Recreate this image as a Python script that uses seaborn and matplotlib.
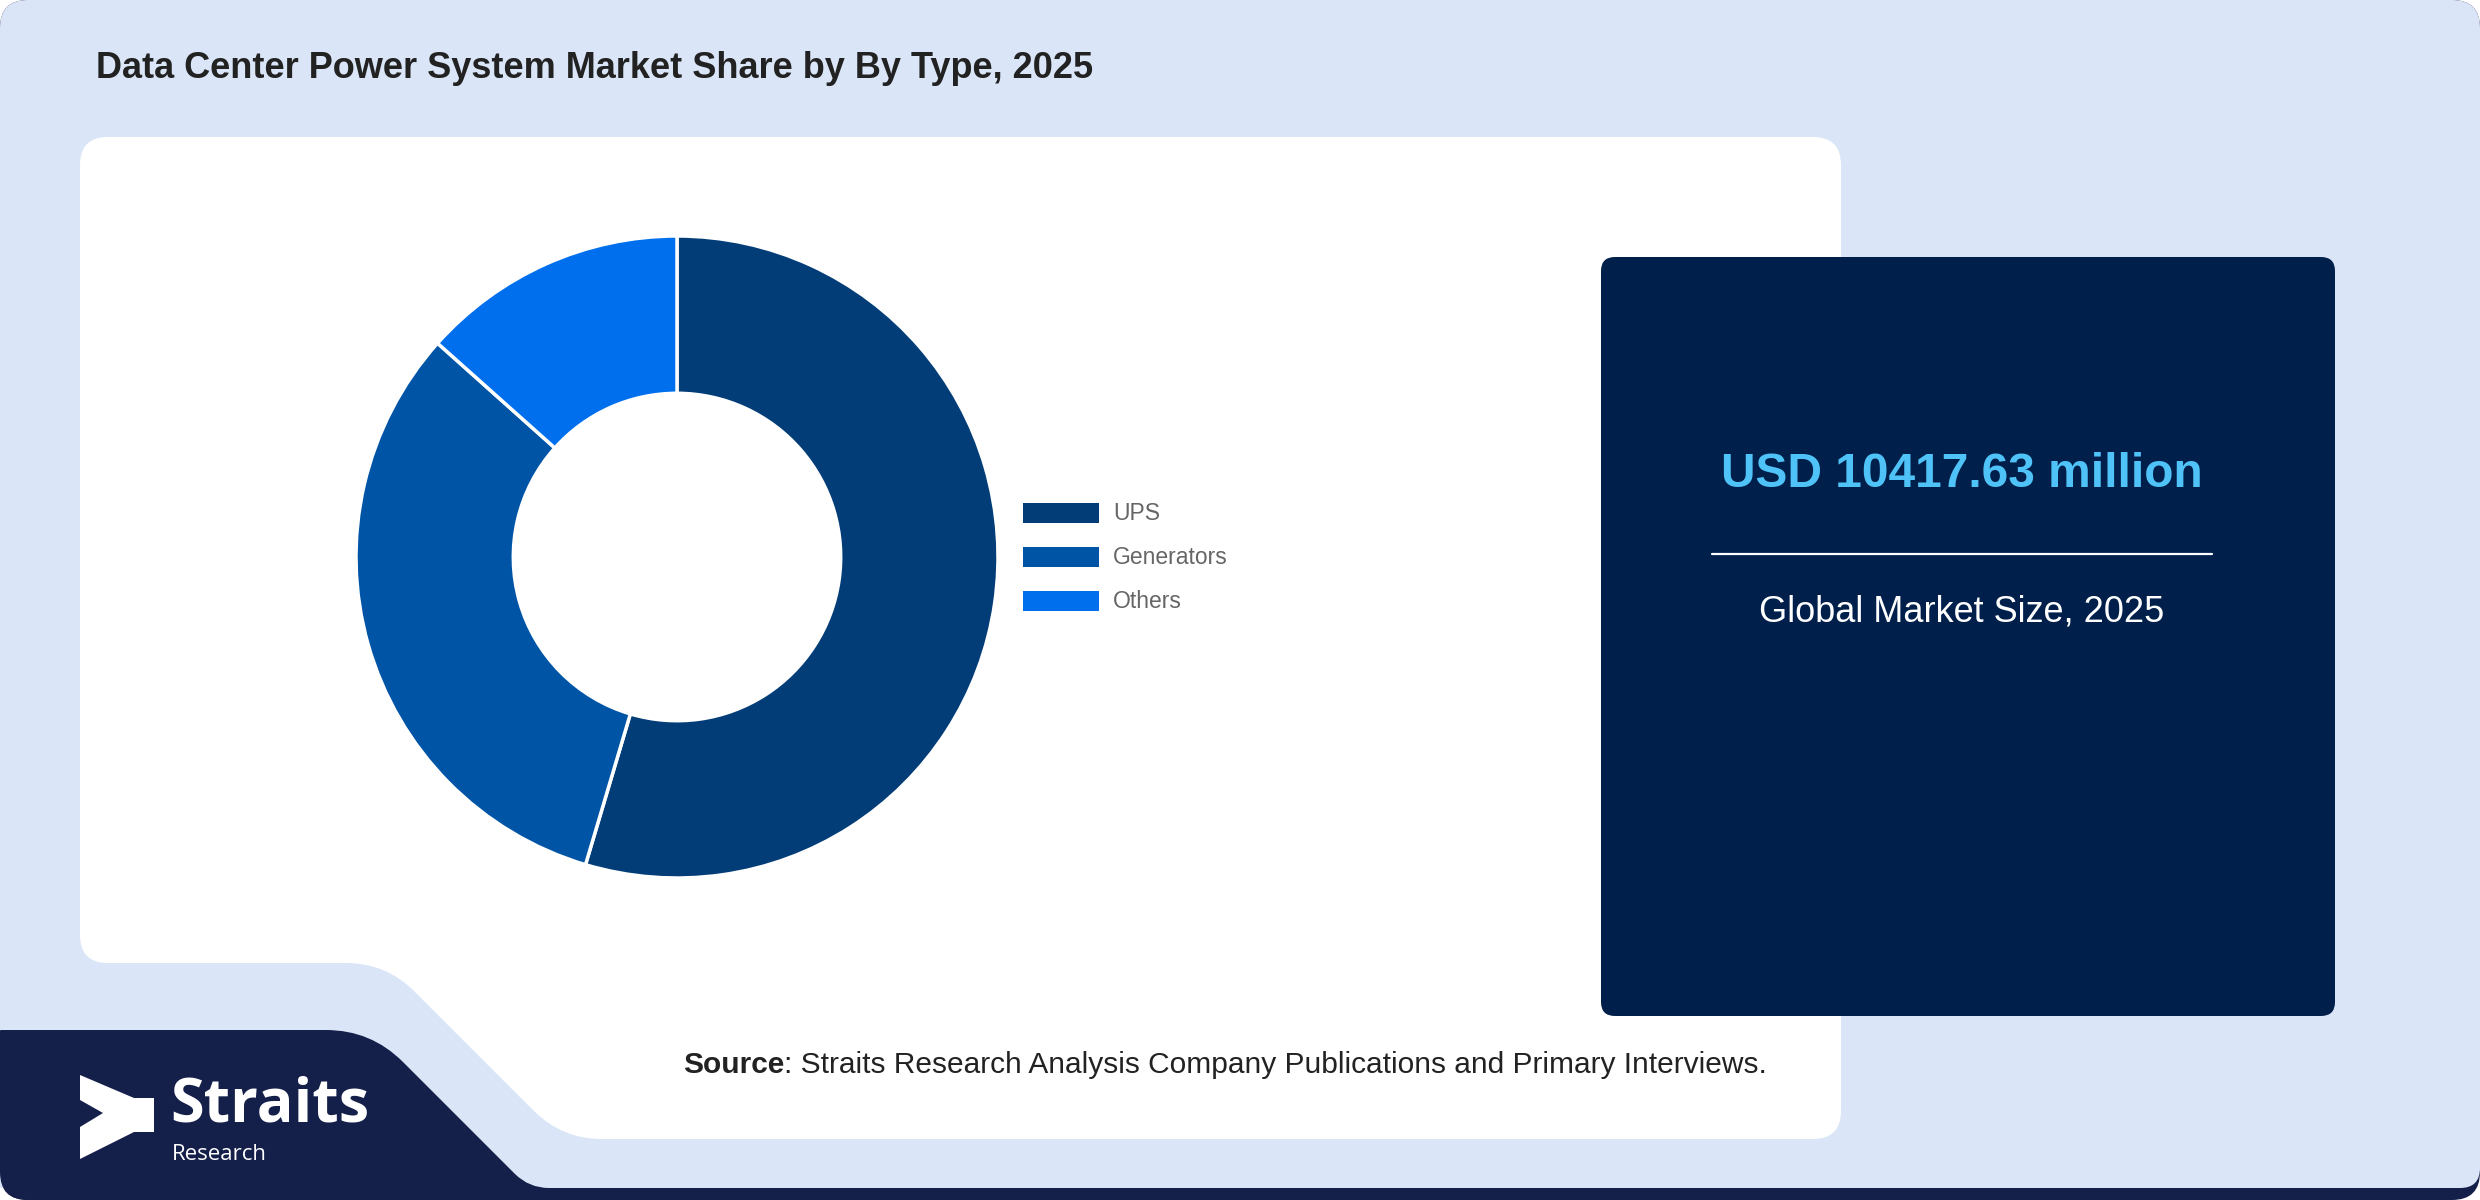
import numpy as np
import matplotlib
matplotlib.use("Agg")
import matplotlib.pyplot as plt
import seaborn as sns
from matplotlib.path import Path
from matplotlib.patches import PathPatch, Rectangle, FancyBboxPatch, Polygon

# data
segments = ["UPS", "Generators", "Others"]
shares = [54.6, 32.0, 13.4]
seg_colors = ["#033d78", "#0054a6", "#006fee"]

title = "Data Center Power System Market Share by By Type, 2025"
market_value = "USD 10417.63 million"
market_caption = "Global Market Size, 2025"
source_rest = ": Straits Research Analysis Company Publications and Primary Interviews."

W, H = 2480, 1200
LIGHT = "#dae6f8"
NAVY = "#141f4a"
BOX = "#001f4b"

sns.set_theme(style="white")
plt.rcParams["font.family"] = ["Liberation Sans", "DejaVu Sans"]


def rounded_poly(pts, radii):
    # polygon with quadratic-bezier rounded corners
    pts = np.asarray(pts, float)
    n = len(pts)
    verts, codes = [], []
    for i in range(n):
        p = pts[i]
        a = pts[i - 1]
        b = pts[(i + 1) % n]
        r = radii[i] if np.ndim(radii) else radii
        da = (a - p) / np.linalg.norm(a - p)
        db = (b - p) / np.linalg.norm(b - p)
        p1 = p + da * r
        p2 = p + db * r
        if i == 0:
            verts.append(p1); codes.append(Path.MOVETO)
        else:
            verts.append(p1); codes.append(Path.LINETO)
        verts += [p, p2]; codes += [Path.CURVE3, Path.CURVE3]
    verts.append(verts[0]); codes.append(Path.CLOSEPOLY)
    return Path(verts, codes)


fig = plt.figure(figsize=(W / 100, H / 100), dpi=100, facecolor="white")
ax = fig.add_axes([0, 0, 1, 1])
ax.set_xlim(0, W)
ax.set_ylim(H, 0)
ax.axis("off")

# outer card
ax.add_patch(PathPatch(rounded_poly([(0, 0), (W, 0), (W, H), (0, H)], 28),
                       facecolor=NAVY, edgecolor="none"))
ax.add_patch(PathPatch(rounded_poly([(0, 0), (W, 0), (W, 1188), (0, 1188)], [28, 28, 20, 1]),
                       facecolor=LIGHT, edgecolor="none"))

# logo block
ax.add_patch(PathPatch(rounded_poly([(0, 1030), (371, 1030), (529, 1188), (W - 30, 1188),
                                     (W - 30, H), (0, H)], [1, 45, 20, 1, 1, 28]),
                       facecolor=NAVY, edgecolor="none"))

# white panel
ax.add_patch(PathPatch(rounded_poly([(80, 137), (1841, 137), (1841, 1139), (562, 1139),
                                     (386, 963), (80, 963)], [28, 28, 28, 40, 40, 28]),
                       facecolor="white", edgecolor="none"))

# right info box
ax.add_patch(FancyBboxPatch((1601 + 14, 257 + 14), 734 - 28, 759 - 28,
                            boxstyle="round,pad=14", facecolor=BOX, edgecolor="none"))

# title
ax.text(96, 78, title, fontsize=26, fontweight="bold", color="#222222", va="baseline", ha="left")

# donut
cx, cy, r = 677, 557, 321
pax = fig.add_axes([(cx - r) / W, (H - cy - r) / H, 2 * r / W, 2 * r / H])
pax.pie(shares, colors=seg_colors, startangle=90, counterclock=False, radius=1,
        wedgeprops=dict(width=0.49, edgecolor="white", linewidth=2.5))
pax.set_xlim(-1, 1)
pax.set_ylim(-1, 1)
pax.axis("off")

# legend
leg_y = [513, 557, 601]
for lab, col, yy in zip(segments, seg_colors, leg_y):
    ax.add_patch(Rectangle((1023, yy - 10), 76, 20, facecolor=col, edgecolor="none"))
    ax.text(1113, yy + 1, lab, fontsize=16.5, color="#666666", va="center", ha="left")

# info box texts
ax.text(1962, 487, market_value, fontsize=34.5, fontweight="bold", color="#4fc3f7",
        ha="center", va="baseline")
ax.plot([1712, 2212], [554, 554], color="white", lw=1.6)
ax.text(1962, 622, market_caption, fontsize=26, color="white", ha="center", va="baseline")

# source line
t1 = ax.text(683, 1073, "Source", fontsize=21.5, fontweight="bold", color="#222222",
             va="baseline", ha="left")
fig.canvas.draw()
bb = t1.get_window_extent()
ax.text(683 + bb.width, 1073, source_rest, fontsize=21.5, color="#222222",
        va="baseline", ha="left")

# logo
ax.add_patch(Polygon([(80, 1075), (134, 1098), (154, 1098), (154, 1132), (134, 1132),
                      (80, 1159), (80, 1127), (103, 1113), (80, 1100)],
                     closed=True, facecolor="white", edgecolor="none"))
ax.text(170, 1121, "Straits", fontsize=44, fontweight="bold", color="white",
        family=["Open Sans", "DejaVu Sans"], va="baseline", ha="left")
ax.text(172, 1160, "Research", fontsize=16, color="white",
        family=["Open Sans", "DejaVu Sans"], va="baseline", ha="left")

fig.savefig("out.png", dpi=100, facecolor="white")
